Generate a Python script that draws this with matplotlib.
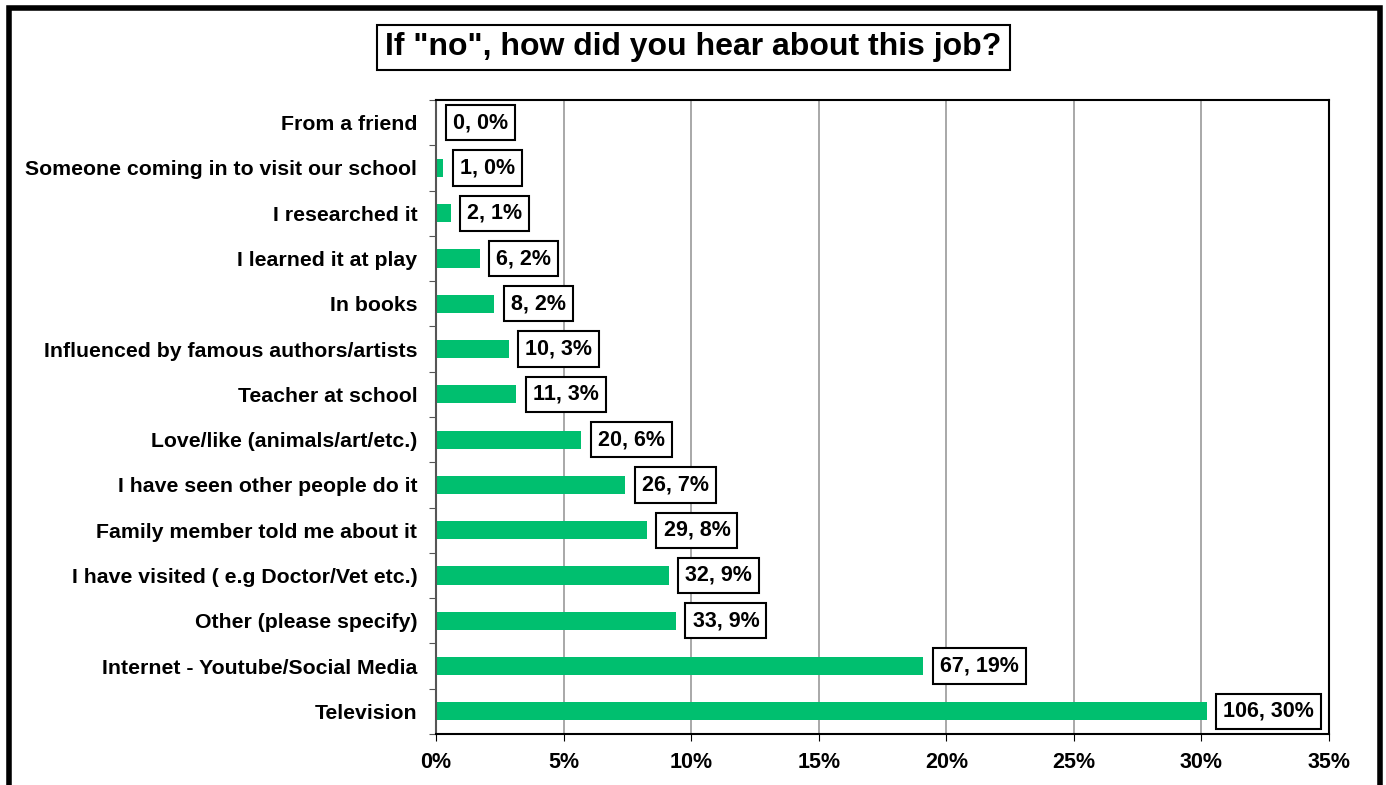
import numpy as np
import matplotlib.pyplot as plt
from matplotlib.patches import Rectangle
from matplotlib.ticker import FixedLocator, PercentFormatter

plt.rcParams['font.family'] = ['Liberation Sans', 'DejaVu Sans']
plt.rcParams['font.weight'] = 'bold'

# answers, top of chart first
answers = ['From a friend', 'Someone coming in to visit our school', 'I researched it',
           'I learned it at play', 'In books', 'Influenced by famous authors/artists',
           'Teacher at school', 'Love/like (animals/art/etc.)', 'I have seen other people do it',
           'Family member told me about it', 'I have visited ( e.g Doctor/Vet etc.)',
           'Other (please specify)', 'Internet - Youtube/Social Media', 'Television']
counts = np.array([0, 1, 2, 6, 8, 10, 11, 20, 26, 29, 32, 33, 67, 106])
share = counts / counts.sum() * 100

fig = plt.figure(figsize=(13.86, 7.85), dpi=100)
ax = fig.add_axes([0.3146, 0.0650, 0.6443, 0.8076])

ypos = np.arange(len(answers))[::-1]
ax.barh(ypos, share, height=0.4, color='#00bf6f', zorder=2)

for y, c, p in zip(ypos, counts, share):
    ax.annotate(f'{c}, {p:.0f}%', xy=(p, y), xytext=(12, 0), textcoords='offset points',
                ha='left', va='center', fontsize=15.5, fontweight='bold',
                bbox=dict(boxstyle='square,pad=0.33', fc='white', ec='black', lw=1.5))

ax.set_xlim(0, 35)
ax.set_ylim(-0.5, len(answers) - 0.5)
ax.xaxis.set_major_locator(FixedLocator(np.arange(0, 36, 5)))
ax.xaxis.set_major_formatter(PercentFormatter(decimals=0))
ax.grid(axis='x', color='#999999', lw=1.2, zorder=0)

# tick marks between categories, labels at the centres
ax.set_yticks(np.arange(-0.5, len(answers), 1.0))
ax.set_yticklabels([])
ax.set_yticks(ypos, minor=True)
ax.set_yticklabels(answers, minor=True)
ax.tick_params(axis='y', which='minor', length=0, pad=13.5, labelsize=15.3)
ax.tick_params(axis='y', which='major', length=5, color='#555555')
ax.tick_params(axis='x', length=5, labelsize=15.5, pad=8)
for lbl in ax.get_xticklabels() + ax.get_yticklabels(minor=True):
    lbl.set_fontweight('bold')

for side in ['top', 'right', 'bottom']:
    ax.spines[side].set_linewidth(1.5)
ax.spines['left'].set_color('#555555')
ax.spines['left'].set_linewidth(1.5)

fig.text(0.5004, 0.9395, 'If "no", how did you hear about this job?', ha='center', va='center',
         fontsize=23, fontweight='bold',
         bbox=dict(boxstyle='square,pad=0.25', fc='white', ec='black', lw=1.5))

# heavy outer frame
fig.patches.append(Rectangle((0.0065, -0.05), 0.9895, 1.04, transform=fig.transFigure,
                             fill=False, ec='black', lw=4))

fig.savefig('out.png', dpi=100)
